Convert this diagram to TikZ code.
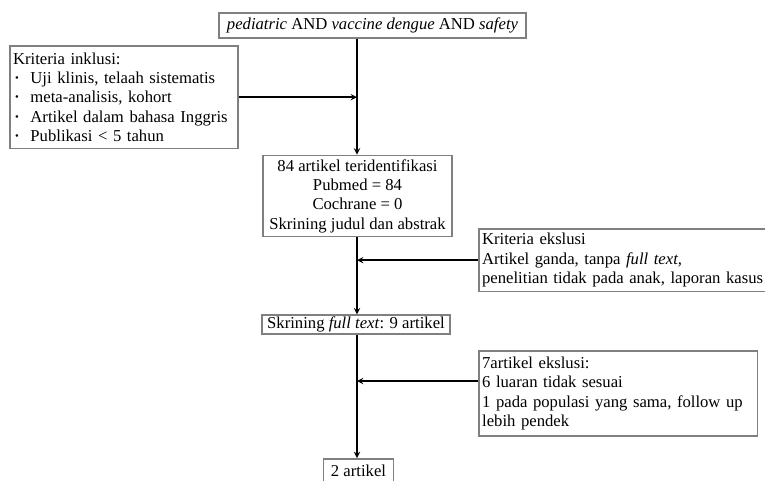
\documentclass[tikz,border=0pt]{standalone}
\usepackage{fontspec}
\setmainfont{Liberation Serif}
\usetikzlibrary{positioning}

\begin{document}
\begin{tikzpicture}[x=0.75pt, y=-0.75pt, >=stealth, thick,
  every node/.style={font=\fontsize{12.5}{14.5}\selectfont},
  kotak/.style={draw=black!50, line width=1.2pt, inner xsep=2.5pt, inner ysep=1pt},
  panah/.style={->, line width=1.1pt}]
				\useasboundingbox (0,0) rectangle (765,480);
				\coordinate (sumbu) at (357,0);
				\newcommand{\titik}{\makebox[13pt][l]{\kern1.5pt\raisebox{0.25ex}{\fontsize{8}{8}\selectfont\textbullet}}}
				
				% 1. kotak utama
				\node[kotak, minimum width=230pt, minimum height=18.5pt] (cari) at (372.5,25.5)
					{\textit{pediatric} AND \textit{vaccine dengue} AND \textit{safety}};
				\node[kotak, minimum width=141.5pt, minimum height=61pt, align=center] (identifikasi) at (357.5,196)
					{84 artikel teridentifikasi\\Pubmed = 84\\Cochrane = 0\\Skrining judul dan abstrak};
				\node[kotak, minimum width=141pt, minimum height=14pt] (skrining) at (356,324.5)
					{Skrining \textit{full text}: 9 artikel};
				\node[kotak, anchor=north, minimum width=52.5pt, minimum height=18pt] (hasil) at (358.5,458)
					{2 artikel};
				
				% 2. kotak kriteria
				\node[kotak, anchor=north west, text width=166pt, minimum height=77pt, align=left] (inklusi) at (9,45)
					{Kriteria inklusi:\\
					\titik Uji klinis, telaah sistematis\\
					\titik meta-analisis, kohort\\
					\titik Artikel dalam bahasa Inggris\\
					\titik Publikasi < 5 tahun};
				\node[kotak, anchor=north west, inner xsep=2.5pt, text width=240pt, minimum height=47pt, align=left] (eksklusi1) at (478,228)
					{Kriteria ekslusi\\Artikel ganda, tanpa \textit{full text,}\\penelitian tidak pada anak, laporan kasus};
				\node[kotak, anchor=north west, text width=204pt, minimum height=64pt, align=left] (eksklusi2) at (478,350)
					{7artikel ekslusi:\\6 luaran tidak sesuai\\1 pada populasi yang sama, follow up\\lebih pendek};
				
				% 3. alur panah
				\draw[panah] (cari.south -| sumbu) -- (identifikasi.north -| sumbu);
				\draw[panah] (identifikasi.south -| sumbu) -- (skrining.north -| sumbu);
				\draw[panah] (skrining.south -| sumbu) -- (hasil.north -| sumbu);
				\draw[panah] (inklusi.east) -- (inklusi.east -| sumbu);
				\draw[panah] (eksklusi1.west) -- (eksklusi1.west -| sumbu);
				\coordinate (cabang) at (357,381);
				\draw[panah] (eksklusi2.west |- cabang) -- (cabang);
			\end{tikzpicture}
\end{document}
